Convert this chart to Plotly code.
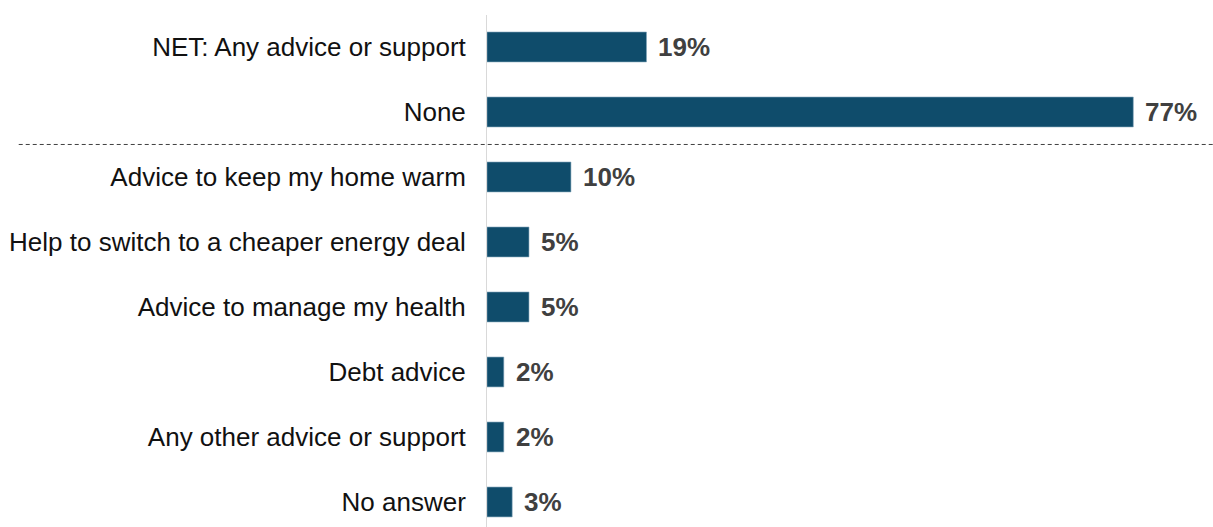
import plotly.graph_objects as go

categories = [
    "NET: Any advice or support",
    "None",
    "Advice to keep my home warm",
    "Help to switch to a cheaper energy deal",
    "Advice to manage my health",
    "Debt advice",
    "Any other advice or support",
    "No answer",
]
values = [19, 77, 10, 5, 5, 2, 2, 3]
value_labels = [f"{v}%" for v in values]

BAR_COLOR = "#0f4c6b"
FONT = "Liberation Sans, Arial, sans-serif"

fig = go.Figure(
    go.Bar(
        x=values,
        y=categories,
        orientation="h",
        width=0.46,
        marker=dict(color=BAR_COLOR, line=dict(color="#7fa3b8", width=0.6)),
        hoverinfo="skip",
    )
)

# value labels just past the end of each bar
for cat, v, lab in zip(categories, values, value_labels):
    fig.add_annotation(
        x=v,
        y=cat,
        xref="x",
        yref="y",
        text=f"<b>{lab}</b>",
        showarrow=False,
        xanchor="left",
        yanchor="middle",
        xshift=10,
        font=dict(family=FONT, size=26, color="#404040"),
    )

# dashed separator between the summary rows and the detailed rows
fig.add_shape(
    type="line",
    xref="paper",
    yref="y",
    x0=-0.645,
    x1=1.0,
    y0=1.5,
    y1=1.5,
    line=dict(color="#404040", width=1, dash="4px,3px"),
)

fig.update_layout(
    width=1213,
    height=527,
    margin=dict(l=487, r=0, t=15, b=0),
    paper_bgcolor="white",
    plot_bgcolor="white",
    showlegend=False,
    font=dict(family=FONT, size=26, color="#111111"),
    xaxis=dict(
        range=[0, 86.5],
        visible=False,
        fixedrange=True,
    ),
    yaxis=dict(
        type="category",
        categoryorder="array",
        categoryarray=categories,
        range=[7.385, -0.492],
        showline=True,
        linecolor="#d9d9d9",
        linewidth=1,
        showgrid=False,
        zeroline=False,
        ticks="",
        ticklabelstandoff=15,
        tickfont=dict(family=FONT, size=26, color="#111111"),
        fixedrange=True,
    ),
)

fig.write_html("out.html")
